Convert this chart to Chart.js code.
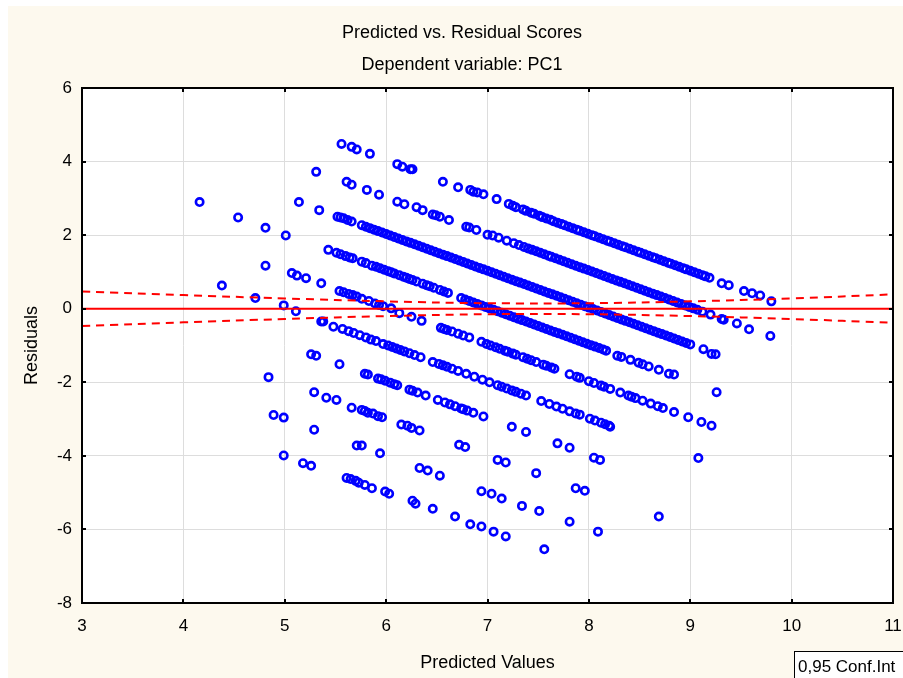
<!DOCTYPE html>
<html>
<head>
<meta charset="utf-8">
<script src="https://cdn.jsdelivr.net/npm/chart.js@4.4.1/dist/chart.umd.min.js"></script>
<style>
  html, body { margin: 0; padding: 0; background: #ffffff; }
  #wrap { position: relative; width: 903px; height: 678px; }
</style>
</head>
<body>
<div id="wrap"><canvas id="chart" width="903" height="678"></canvas></div>
<script>
const band10 = [[5.56,4.48],[5.66,4.40],[5.71,4.33],[5.84,4.21],[6.11,3.93],[6.16,3.86],[6.24,3.79],[6.26,3.79],
  [6.56,3.45],[6.71,3.30],[6.83,3.23],[6.86,3.18],[6.90,3.16],[6.96,3.11],[7.09,2.98],
  [7.21,2.85],[7.25,2.80],[7.28,2.76],[7.35,2.70],[7.38,2.66],[7.43,2.61],[7.46,2.58],[7.51,2.53],[7.54,2.49],
  [7.58,2.45],[7.62,2.42],[7.65,2.38],[7.69,2.34],[7.73,2.30],[7.76,2.27],[7.80,2.23],[7.84,2.19],[7.88,2.15],
  [7.91,2.12],[7.95,2.08],[7.99,2.04],[8.03,2.00],[8.06,1.97],[8.10,1.93],[8.14,1.89],[8.18,1.85],[8.21,1.82],
  [8.25,1.78],[8.29,1.74],[8.33,1.70],[8.36,1.67],[8.40,1.63],[8.44,1.59],[8.48,1.55],[8.51,1.52],[8.55,1.48],
  [8.59,1.44],[8.63,1.40],[8.66,1.37],[8.70,1.33],[8.74,1.29],[8.78,1.25],[8.81,1.22],[8.85,1.18],[8.89,1.14],
  [8.93,1.10],[8.96,1.07],[9.00,1.03],[9.04,0.99],[9.08,0.95],[9.12,0.91],[9.15,0.88],[9.19,0.84],
  [9.31,0.69],[9.38,0.64],[9.53,0.48],[9.61,0.42],[9.69,0.36],[9.80,0.20]];

const band9 = [[5.31,3.72],[5.61,3.45],[5.66,3.37],[5.81,3.23],[5.93,3.10],[6.11,2.91],[6.18,2.84],[6.30,2.76],
  [6.36,2.68],[6.46,2.56],[6.49,2.54],[6.53,2.50],[6.62,2.41],[6.79,2.23],[6.82,2.21],[6.89,2.14],
  [7.00,2.01],[7.05,1.99],[7.11,1.93],[7.19,1.85],[7.26,1.78],[7.31,1.73],[7.36,1.68],[7.40,1.64],[7.44,1.60],
  [7.48,1.56],[7.52,1.52],[7.56,1.48],[7.60,1.44],[7.63,1.41],[7.67,1.37],[7.71,1.33],[7.75,1.29],[7.79,1.25],
  [7.83,1.21],[7.87,1.17],[7.91,1.13],[7.95,1.09],[7.99,1.05],[8.03,1.01],[8.07,0.97],[8.11,0.93],[8.15,0.89],
  [8.19,0.85],[8.23,0.81],[8.27,0.77],[8.31,0.73],[8.35,0.69],[8.39,0.65],[8.43,0.61],[8.47,0.57],[8.51,0.53],
  [8.55,0.49],[8.59,0.45],[8.63,0.41],[8.67,0.37],[8.71,0.33],[8.75,0.29],[8.79,0.25],[8.83,0.21],[8.87,0.17],
  [8.91,0.13],[8.95,0.09],[8.99,0.05],[9.03,0.01],[9.07,-0.03],[9.12,-0.08],[9.20,-0.16],[9.31,-0.28],
  [9.33,-0.30],[9.46,-0.40],[9.58,-0.56],[9.79,-0.74]];

const band8 = [[5.14,2.90],[5.34,2.68],[5.52,2.50],[5.55,2.48],[5.58,2.46],[5.62,2.41],[5.66,2.37],[5.76,2.27],
  [5.80,2.23],[5.84,2.19],[5.88,2.15],[5.92,2.11],[5.96,2.07],[6.00,2.03],[6.04,1.99],[6.08,1.95],[6.12,1.91],
  [6.16,1.87],[6.20,1.83],[6.24,1.79],[6.28,1.75],[6.32,1.71],[6.36,1.67],[6.40,1.63],[6.44,1.59],[6.48,1.55],
  [6.52,1.51],[6.56,1.47],[6.60,1.43],[6.64,1.39],[6.68,1.35],[6.72,1.31],[6.76,1.27],[6.80,1.23],[6.84,1.19],
  [6.88,1.15],[6.92,1.11],[6.96,1.07],[7.00,1.03],[7.04,0.99],[7.08,0.95],[7.12,0.91],[7.16,0.87],[7.20,0.83],
  [7.24,0.79],[7.28,0.75],[7.32,0.71],[7.36,0.67],[7.40,0.63],[7.44,0.59],[7.48,0.55],[7.52,0.51],[7.56,0.47],
  [7.60,0.43],[7.64,0.39],[7.68,0.35],[7.72,0.31],[7.76,0.27],[7.80,0.23],[7.84,0.19],[7.88,0.15],[7.92,0.11],
  [7.96,0.07],[8.00,0.03],[8.04,-0.01],[8.08,-0.05],[8.12,-0.09],[8.16,-0.13],[8.20,-0.17],[8.24,-0.21],
  [8.28,-0.25],[8.32,-0.29],[8.36,-0.33],[8.40,-0.37],[8.44,-0.41],[8.48,-0.45],[8.52,-0.49],[8.56,-0.53],
  [8.60,-0.57],[8.64,-0.61],[8.68,-0.65],[8.72,-0.69],[8.76,-0.73],[8.80,-0.77],[8.84,-0.81],[8.88,-0.85],
  [8.92,-0.89],[8.96,-0.93],[9.00,-0.97],[9.13,-1.10],[9.21,-1.23],[9.25,-1.24]];

const band7 = [[4.16,2.90],[4.54,2.48],[4.81,2.20],[5.01,1.99],[5.43,1.60],[5.51,1.52],[5.55,1.48],[5.60,1.43],
  [5.64,1.39],[5.67,1.37],[5.76,1.28],[5.80,1.24],[5.86,1.17],[5.90,1.14],[5.94,1.10],[5.98,1.06],[6.02,1.02],
  [6.05,0.99],[6.08,0.96],[6.13,0.91],[6.17,0.87],[6.20,0.84],[6.23,0.81],[6.26,0.78],[6.30,0.74],[6.36,0.68],
  [6.40,0.64],[6.43,0.61],[6.47,0.57],[6.53,0.51],[6.57,0.47],[6.61,0.43],[6.74,0.29],[6.78,0.25],[6.82,0.21],
  [6.86,0.17],[6.90,0.13],[6.94,0.09],[6.98,0.05],[7.02,0.01],[7.06,-0.03],[7.10,-0.07],[7.14,-0.11],[7.18,-0.15],
  [7.22,-0.19],[7.26,-0.23],[7.30,-0.27],[7.34,-0.31],[7.38,-0.35],[7.42,-0.39],[7.46,-0.43],[7.50,-0.47],
  [7.54,-0.51],[7.58,-0.55],[7.62,-0.59],[7.66,-0.63],[7.70,-0.67],[7.74,-0.71],[7.78,-0.75],[7.82,-0.79],
  [7.86,-0.83],[7.90,-0.87],[7.94,-0.91],[7.98,-0.95],[8.02,-0.99],[8.06,-1.03],[8.10,-1.07],[8.14,-1.11],
  [8.17,-1.14],[8.28,-1.28],[8.32,-1.31],[8.41,-1.39],[8.49,-1.47],[8.53,-1.51],[8.59,-1.57],[8.69,-1.66],
  [8.79,-1.77],[8.84,-1.79],[9.26,-2.27]];

const band6 = [[4.81,1.17],[5.07,0.97],[5.12,0.90],[5.21,0.83],[5.36,0.69],[5.54,0.48],[5.58,0.45],[5.63,0.40],
  [5.67,0.37],[5.71,0.33],[5.76,0.27],[5.83,0.21],[5.89,0.14],[5.93,0.10],[5.97,0.07],[6.05,0.01],[6.13,-0.12],
  [6.25,-0.22],[6.35,-0.33],[6.54,-0.52],[6.57,-0.55],[6.60,-0.58],[6.65,-0.62],[6.71,-0.68],[6.76,-0.73],
  [6.82,-0.78],[6.94,-0.90],[6.99,-0.96],[7.03,-1.00],[7.08,-1.05],[7.12,-1.09],[7.17,-1.14],[7.20,-1.17],
  [7.25,-1.22],[7.28,-1.25],[7.35,-1.32],[7.39,-1.36],[7.43,-1.40],[7.48,-1.45],[7.55,-1.52],[7.58,-1.55],
  [7.63,-1.60],[7.66,-1.63],[7.81,-1.78],[7.88,-1.85],[7.91,-1.88],[8.00,-1.97],[8.05,-2.02],[8.12,-2.09],
  [8.15,-2.12],[8.21,-2.18],[8.31,-2.28],[8.39,-2.36],[8.42,-2.39],[8.46,-2.43],[8.53,-2.50],[8.61,-2.58],
  [8.68,-2.65],[8.73,-2.70],[8.84,-2.81],[8.98,-2.95],[9.11,-3.08],[9.21,-3.18]];

const band5 = [[4.38,0.63],[4.71,0.29],[4.99,0.09],[5.11,-0.07],[5.36,-0.35],[5.38,-0.35],[5.48,-0.49],[5.57,-0.55],
  [5.63,-0.61],[5.68,-0.66],[5.74,-0.72],[5.80,-0.78],[5.85,-0.84],[5.90,-0.88],[5.97,-0.96],[6.02,-1.00],
  [6.06,-1.04],[6.10,-1.08],[6.14,-1.12],[6.18,-1.16],[6.23,-1.21],[6.28,-1.26],[6.34,-1.32],[6.46,-1.45],
  [6.52,-1.50],[6.56,-1.54],[6.60,-1.58],[6.65,-1.63],[6.71,-1.69],[6.79,-1.77],[6.87,-1.85],[6.95,-1.93],
  [7.02,-2.00],[7.10,-2.08],[7.14,-2.12],[7.19,-2.17],[7.24,-2.22],[7.28,-2.26],[7.33,-2.31],[7.38,-2.36],
  [7.53,-2.51],[7.61,-2.59],[7.68,-2.66],[7.74,-2.72],[7.81,-2.79],[7.87,-2.85],[7.91,-2.88],[8.01,-2.99],
  [8.06,-3.04],[8.12,-3.10],[8.16,-3.14],[8.20,-3.18],[8.21,-3.21],[9.08,-4.06]];

const band4 = [[5.26,-1.24],[5.31,-1.28],[5.54,-1.51],[5.79,-1.77],[5.82,-1.79],[5.92,-1.90],[5.95,-1.92],
  [5.99,-1.96],[6.04,-2.01],[6.08,-2.05],[6.11,-2.08],[6.23,-2.20],[6.26,-2.23],[6.31,-2.28],[6.39,-2.36],
  [6.51,-2.48],[6.58,-2.55],[6.63,-2.60],[6.68,-2.65],[6.74,-2.71],[6.76,-2.73],[6.80,-2.77],[6.86,-2.83],
  [6.96,-2.93],[7.24,-3.21],[7.38,-3.35],[7.69,-3.66],[7.81,-3.78],[8.05,-4.05],[8.11,-4.11]];

const band3 = [[4.84,-1.86],[5.29,-2.27],[5.41,-2.42],[5.51,-2.48],[5.66,-2.69],[5.76,-2.75],[5.79,-2.78],
  [5.82,-2.83],[5.87,-2.85],[5.92,-2.92],[5.96,-2.95],[6.15,-3.15],[6.21,-3.18],[6.25,-3.24],[6.33,-3.31],
  [6.72,-3.70],[6.78,-3.76],[7.10,-4.11],[7.18,-4.18],[7.48,-4.47],[7.87,-4.88],[7.96,-4.95],[8.69,-5.65]];

const band2 = [[4.89,-2.89],[4.99,-2.96],[5.29,-3.29],[5.71,-3.72],[5.76,-3.72],[5.94,-3.93],[6.33,-4.33],
  [6.41,-4.40],[6.53,-4.54],[6.94,-4.96],[7.04,-5.03],[7.14,-5.16],[7.34,-5.36],[7.51,-5.50],[7.81,-5.79],
  [8.09,-6.06]];

const band1 = [[4.99,-3.99],[5.18,-4.20],[5.26,-4.27],[5.61,-4.60],[5.65,-4.63],[5.70,-4.68],[5.73,-4.73],
  [5.79,-4.79],[5.86,-4.88],[5.99,-4.97],[6.03,-5.03],[6.26,-5.22],[6.29,-5.30],[6.46,-5.44],[6.68,-5.65],
  [6.83,-5.86],[6.94,-5.92],[7.06,-6.06],[7.18,-6.19],[7.56,-6.54]];

// 0,95 confidence band around the zero line
const confX = [3, 4, 5, 6, 7, 8, 9, 10, 11];
const confUpper = [0.47, 0.37, 0.28, 0.20, 0.15, 0.15, 0.20, 0.28, 0.39];
const confLower = [-0.47, -0.37, -0.28, -0.20, -0.15, -0.15, -0.20, -0.28, -0.38];

const xTicks = [3, 4, 5, 6, 7, 8, 9, 10, 11];
const yTicks = [-8, -6, -4, -2, 0, 2, 4, 6];

const FONT = "'Liberation Sans', Arial, sans-serif";
const allPoints = [band10, band9, band8, band7, band6, band5, band4, band3, band2, band1]
  .flat().map(p => ({ x: p[0], y: p[1] }));
const toXY = (xs, ys) => xs.map((x, i) => ({ x: x, y: ys[i] }));

// backgrounds, frame, inner tick marks and texts in the Statistica look
const framePlugin = {
  id: 'frame',
  beforeDraw(chart) {
    const ctx = chart.ctx, a = chart.chartArea;
    ctx.save();
    ctx.fillStyle = '#ffffff';
    ctx.fillRect(0, 0, chart.width, chart.height);
    ctx.fillStyle = '#fdf9ee';
    ctx.fillRect(8, 6, chart.width - 8, chart.height - 6);
    ctx.fillStyle = '#ffffff';
    ctx.fillRect(a.left, a.top, a.right - a.left, a.bottom - a.top);
    ctx.restore();
  },
  afterDraw(chart) {
    const ctx = chart.ctx, a = chart.chartArea;
    const xs = chart.scales.x, ys = chart.scales.y;
    ctx.save();
    ctx.strokeStyle = '#000000';
    ctx.lineWidth = 2;
    ctx.strokeRect(a.left, a.top, a.right - a.left, a.bottom - a.top);
    ctx.beginPath();
    xTicks.forEach(v => {
      const px = Math.round(xs.getPixelForValue(v));
      ctx.moveTo(px, a.top); ctx.lineTo(px, a.top + 4);
      ctx.moveTo(px, a.bottom); ctx.lineTo(px, a.bottom - 4);
    });
    yTicks.forEach(v => {
      const py = Math.round(ys.getPixelForValue(v));
      ctx.moveTo(a.left, py); ctx.lineTo(a.left + 4, py);
      ctx.moveTo(a.right, py); ctx.lineTo(a.right - 4, py);
    });
    ctx.stroke();

    ctx.fillStyle = '#000000';
    ctx.font = '18px ' + FONT;
    ctx.textAlign = 'center';
    ctx.textBaseline = 'alphabetic';
    ctx.fillText('Predicted vs. Residual Scores', 462, 38);
    ctx.fillText('Dependent variable: PC1', 462, 70);
    ctx.fillText('Predicted Values', (a.left + a.right) / 2, 668);
    ctx.save();
    ctx.translate(37, (a.top + a.bottom) / 2);
    ctx.rotate(-Math.PI / 2);
    ctx.fillText('Residuals', 0, 0);
    ctx.restore();

    // conf. interval legend box
    ctx.fillStyle = '#ffffff';
    ctx.fillRect(794, 651, 120, 40);
    ctx.lineWidth = 1;
    ctx.strokeRect(794.5, 651.5, 120, 40);
    ctx.fillStyle = '#000000';
    ctx.textAlign = 'left';
    ctx.font = '17px ' + FONT;
    ctx.fillText('0,95 Conf.Int', 798, 672);
    ctx.restore();
  }
};

new Chart(document.getElementById('chart'), {
  type: 'scatter',
  data: {
    datasets: [
      {
        data: [{ x: 3, y: 0 }, { x: 11, y: 0 }],
        showLine: true, borderColor: '#ff0000', borderWidth: 2, pointRadius: 0
      },
      {
        data: toXY(confX, confUpper),
        showLine: true, borderColor: '#ff0000', borderWidth: 2, borderDash: [8, 6],
        tension: 0.4, pointRadius: 0
      },
      {
        data: toXY(confX, confLower),
        showLine: true, borderColor: '#ff0000', borderWidth: 2, borderDash: [8, 6],
        tension: 0.4, pointRadius: 0
      },
      {
        data: allPoints,
        pointRadius: 3.7, pointBorderWidth: 2.6,
        pointBorderColor: '#0000ff', pointBackgroundColor: 'rgba(0,0,0,0)',
        borderColor: '#0000ff'
      }
    ]
  },
  options: {
    responsive: false,
    animation: false,
    events: [],
    layout: { padding: { left: 0, top: 88, right: 10, bottom: 0 } },
    plugins: { legend: { display: false }, tooltip: { enabled: false }, title: { display: false } },
    scales: {
      x: {
        type: 'linear', min: 3, max: 11,
        afterFit(axis) { axis.height = 75; axis.paddingLeft = 0; axis.paddingRight = 0; },
        afterBuildTicks(axis) { axis.ticks = xTicks.map(v => ({ value: v })); },
        grid: { color: '#dddddd', drawTicks: false },
        border: { display: false },
        ticks: { color: '#000000', font: { family: FONT, size: 17 }, padding: 13, maxRotation: 0 }
      },
      y: {
        type: 'linear', min: -8, max: 6,
        afterFit(axis) { axis.width = 82; axis.paddingTop = 0; axis.paddingBottom = 0; },
        afterBuildTicks(axis) { axis.ticks = yTicks.map(v => ({ value: v })); },
        grid: { color: '#dddddd', drawTicks: false },
        border: { display: false },
        ticks: { color: '#000000', font: { family: FONT, size: 17 }, padding: 10 }
      }
    }
  },
  plugins: [framePlugin]
});
</script>
</body>
</html>
